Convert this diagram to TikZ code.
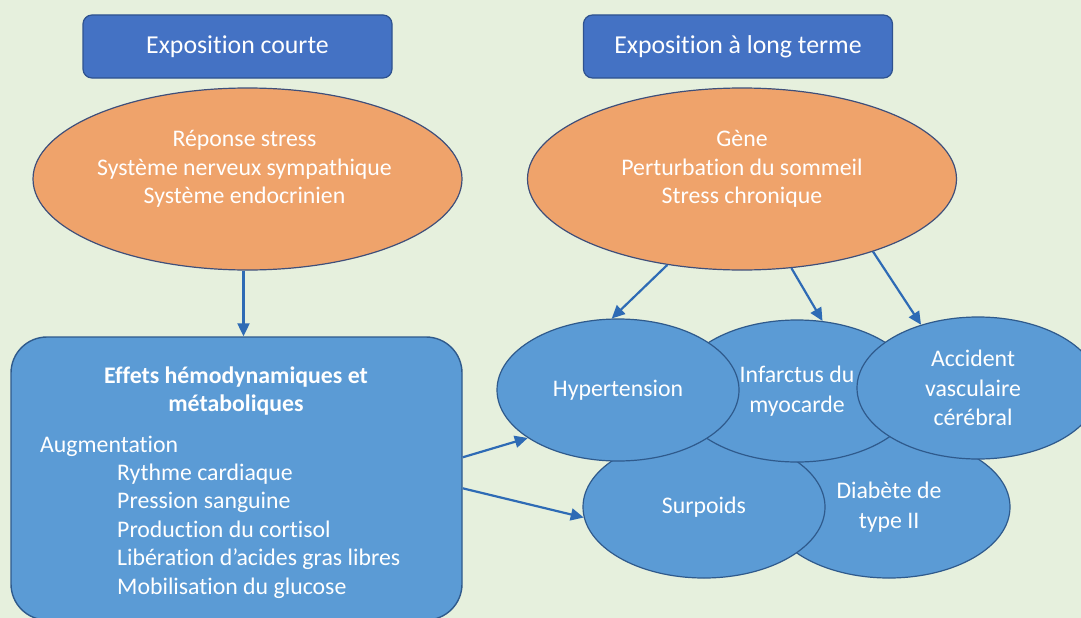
\documentclass[tikz,border=0pt]{standalone}
\usepackage{fontspec}
\setmainfont{Carlito}[Ligatures=NoCommon]
\usetikzlibrary{shapes.geometric,arrows.meta,calc}
\definecolor{bgc}{HTML}{E6F0DD}
\definecolor{titlefill}{HTML}{4472C4}
\definecolor{titledraw}{HTML}{2F528F}
\definecolor{orangefill}{HTML}{EFA36B}
\definecolor{orangedraw}{HTML}{3F4F7A}
\definecolor{bluefill}{HTML}{5B9BD5}
\definecolor{bluedraw}{HTML}{2F5A8C}
\definecolor{arrowc}{HTML}{2E6BB5}
\tikzset{
  titlebox/.style={draw=titledraw, fill=titlefill, line width=1.2pt, rounded corners=9pt,
    minimum width=309pt, minimum height=63pt, inner sep=0pt, text=white,
    font=\fontsize{25.8}{30}\selectfont},
  orangeell/.style={ellipse, draw=orangedraw, fill=orangefill, line width=1.2pt,
    minimum width=429pt, minimum height=182pt, inner sep=0pt},
  blueell/.style={ellipse, draw=bluedraw, fill=bluefill, line width=1.2pt,
    minimum width=242pt, minimum height=142pt, inner sep=0pt, text=white, align=center,
    font=\fontsize{23.8}{29.5}\selectfont},
  bigbox/.style={draw=bluedraw, fill=bluefill, line width=1.4pt, rounded corners=36pt,
    minimum width=451pt, minimum height=283pt, inner sep=0pt},
  wtext/.style={text=white, inner sep=0pt, font=\fontsize{23.8}{28.6}\selectfont},
  arr/.style={draw=arrowc, line width=2.2pt, -{Triangle[length=13pt,width=12pt]}}
}
\begin{document}
\begin{tikzpicture}[x=1pt,y=-1pt]
\path[use as bounding box, fill=bgc] (0,0) rectangle (1081,618);
\clip (0,0) rectangle (1081,618);

% title boxes
\node[titlebox] (T1) at (237.5,46.5) {Exposition courte};
\node[titlebox] (T2) at (738,46.5) {Exposition à long terme};

% orange ellipses
\node[orangeell] (E1) at (247.5,179) {};
\node[wtext, align=center] (E1t) at (244.5,169) {Réponse stress\\Système nerveux sympathique\\Système endocrinien};
\node[orangeell] (E2) at (742,179) {};
\node[wtext, align=center] (E2t) at (742,169) {Gène\\Perturbation du sommeil\\Stress chronique};

% left box
\node[bigbox] (L) at (236.5,478.5) {};
\node[wtext, align=center, font=\bfseries\fontsize{23.8}{27.5}\selectfont] (Lh) at (236,391) {Effets hémodynamiques et\\métaboliques};
\node[wtext, anchor=west] (La) at (40,446) {Augmentation};
\node[wtext, anchor=west, align=left] (Ll) at (117,531) {Rythme cardiaque\\Pression sanguine\\Production du cortisol\\Libération d’acides gras libres\\Mobilisation du glucose};

% blue ellipses (drawing order matters)
\node[blueell] (D) at (889,507) {Diabète de\\type II};
\node[blueell] (S) at (704,507) {Surpoids};
\node[blueell] (I) at (797,391) {Infarctus du\\myocarde};
\node[blueell] (H) at (618,390) {Hypertension};
\node[blueell] (A) at (978,388) {\hspace*{-10pt}Accident\\\hspace*{-10pt}vasculaire\\\hspace*{-10pt}cérébral};

% arrows
\coordinate (a0) at ($(E1.south)+(-4,0)$);
\draw[arr] (a0) -- (a0 |- L.north);
\draw[arr] (E2.229) -- (H.95);
\draw[arr] (E2.299) -- (I.70);
\draw[arr] (E2.331) -- (A.132);
\coordinate (l1) at ($(L.north east)+(0,121)$);
\coordinate (l2) at ($(L.north east)+(0,152)$);
\draw[arr] (l1) -- (H.208);
\draw[arr] (l2) -- (S.185);
\end{tikzpicture}
\end{document}
